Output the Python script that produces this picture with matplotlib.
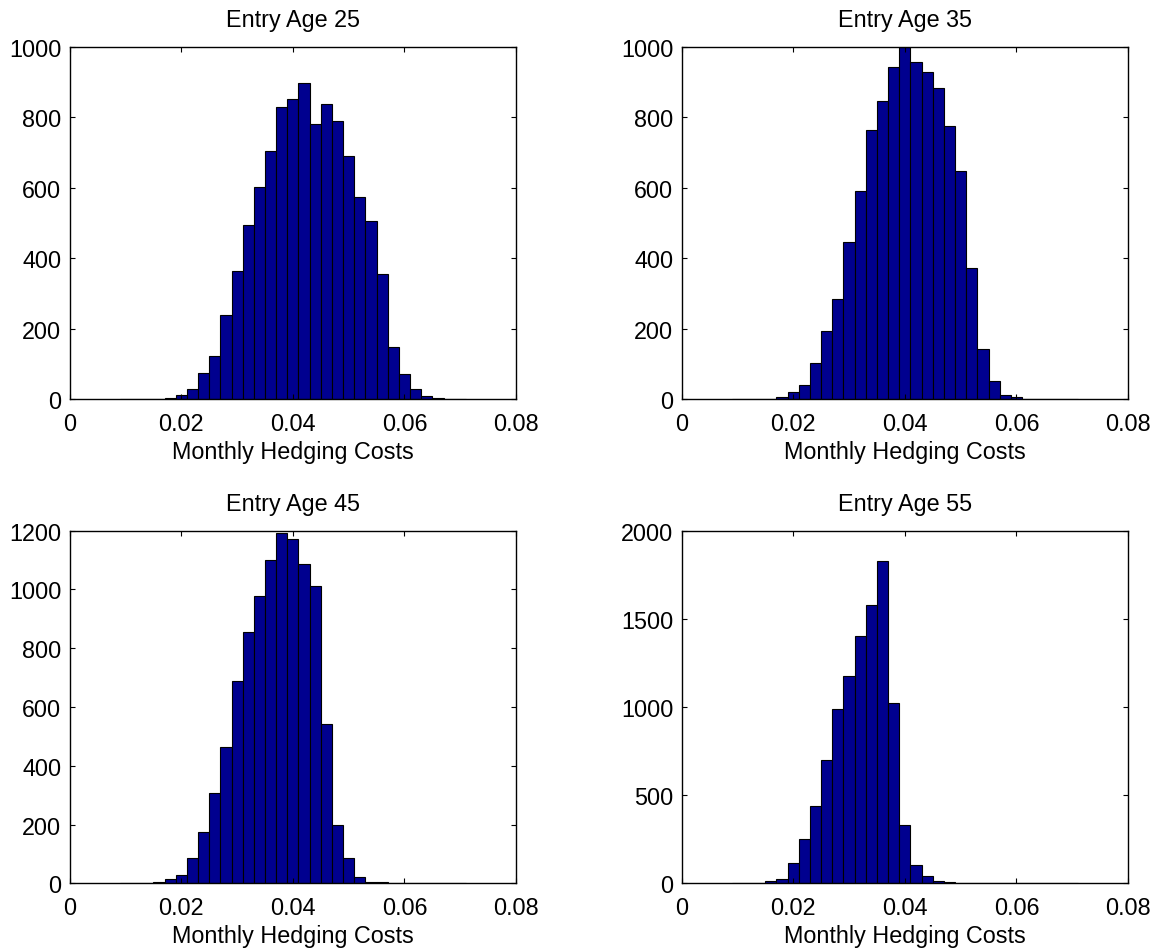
import numpy as np
import matplotlib
matplotlib.use("Agg")
import matplotlib.pyplot as plt

plt.rcParams['font.family'] = ['Liberation Sans', 'DejaVu Sans']

# bin centres (hist with centres every 0.002), 0.010 .. 0.070
centres = np.round(np.arange(0.010, 0.0701, 0.002), 3)

# counts, one list per entry age, aligned with centres
age25 = [1, 1, 1, 2, 3, 11, 28, 74, 123, 239, 363, 495, 601, 703, 830, 852,
         896, 782, 836, 788, 689, 573, 506, 356, 147, 72, 28, 10, 4, 2, 1]
age35 = [0, 1, 1, 2, 5, 20, 41, 103, 193, 285, 445, 590, 765, 846, 942, 1000,
         957, 929, 882, 774, 646, 372, 142, 51, 11, 5, 2, 1, 0, 0, 0]
age45 = [1, 1, 2, 3, 13, 27, 87, 173, 306, 465, 689, 856, 978, 1100, 1192, 1173,
         1086, 1013, 541, 197, 86, 21, 6, 3, 1, 0, 0, 0, 0, 0, 0]
age55 = [1, 2, 3, 11, 26, 113, 249, 436, 700, 987, 1174, 1402, 1581, 1826, 1025, 328,
         102, 42, 13, 5, 2, 1, 0, 0, 0, 0, 0, 0, 0, 0, 0]

titles = ['Entry Age 25', 'Entry Age 35', 'Entry Age 45', 'Entry Age 55']
series = [age25, age35, age45, age55]
ymax = [1000, 1000, 1200, 2000]
ysteps = [200, 200, 200, 500]
xticks = [0, 0.02, 0.04, 0.06, 0.08]
xlabels = ['0', '0.02', '0.04', '0.06', '0.08']

fs = 16.8

fig = plt.figure(figsize=(11.66, 9.53), dpi=100)
positions = [[0.0598, 0.580, 0.3828, 0.370],
             [0.5846, 0.580, 0.3828, 0.370],
             [0.0598, 0.0721, 0.3828, 0.370],
             [0.5846, 0.0721, 0.3828, 0.370]]

for pos, counts, title, top, step in zip(positions, series, titles, ymax, ysteps):
    ax = fig.add_axes(pos)
    ax.bar(centres, counts, width=0.002, color='#00008F', edgecolor='black', linewidth=0.8)
    ax.set_xlim(0, 0.08)
    ax.set_ylim(0, top)
    ax.set_xticks(xticks)
    ax.set_xticklabels(xlabels)
    ax.set_yticks(np.arange(0, top + 1, step))
    ax.tick_params(direction='in', top=True, right=True, labelsize=fs, length=3.5)
    ax.tick_params(axis='x', pad=9)
    ax.tick_params(axis='y', pad=6)
    ax.set_title(title, fontsize=fs, pad=15)
    ax.set_xlabel('Monthly Hedging Costs', fontsize=fs, labelpad=4)
    for s in ax.spines.values():
        s.set_linewidth(1.0)

fig.savefig('out.png', dpi=100)
